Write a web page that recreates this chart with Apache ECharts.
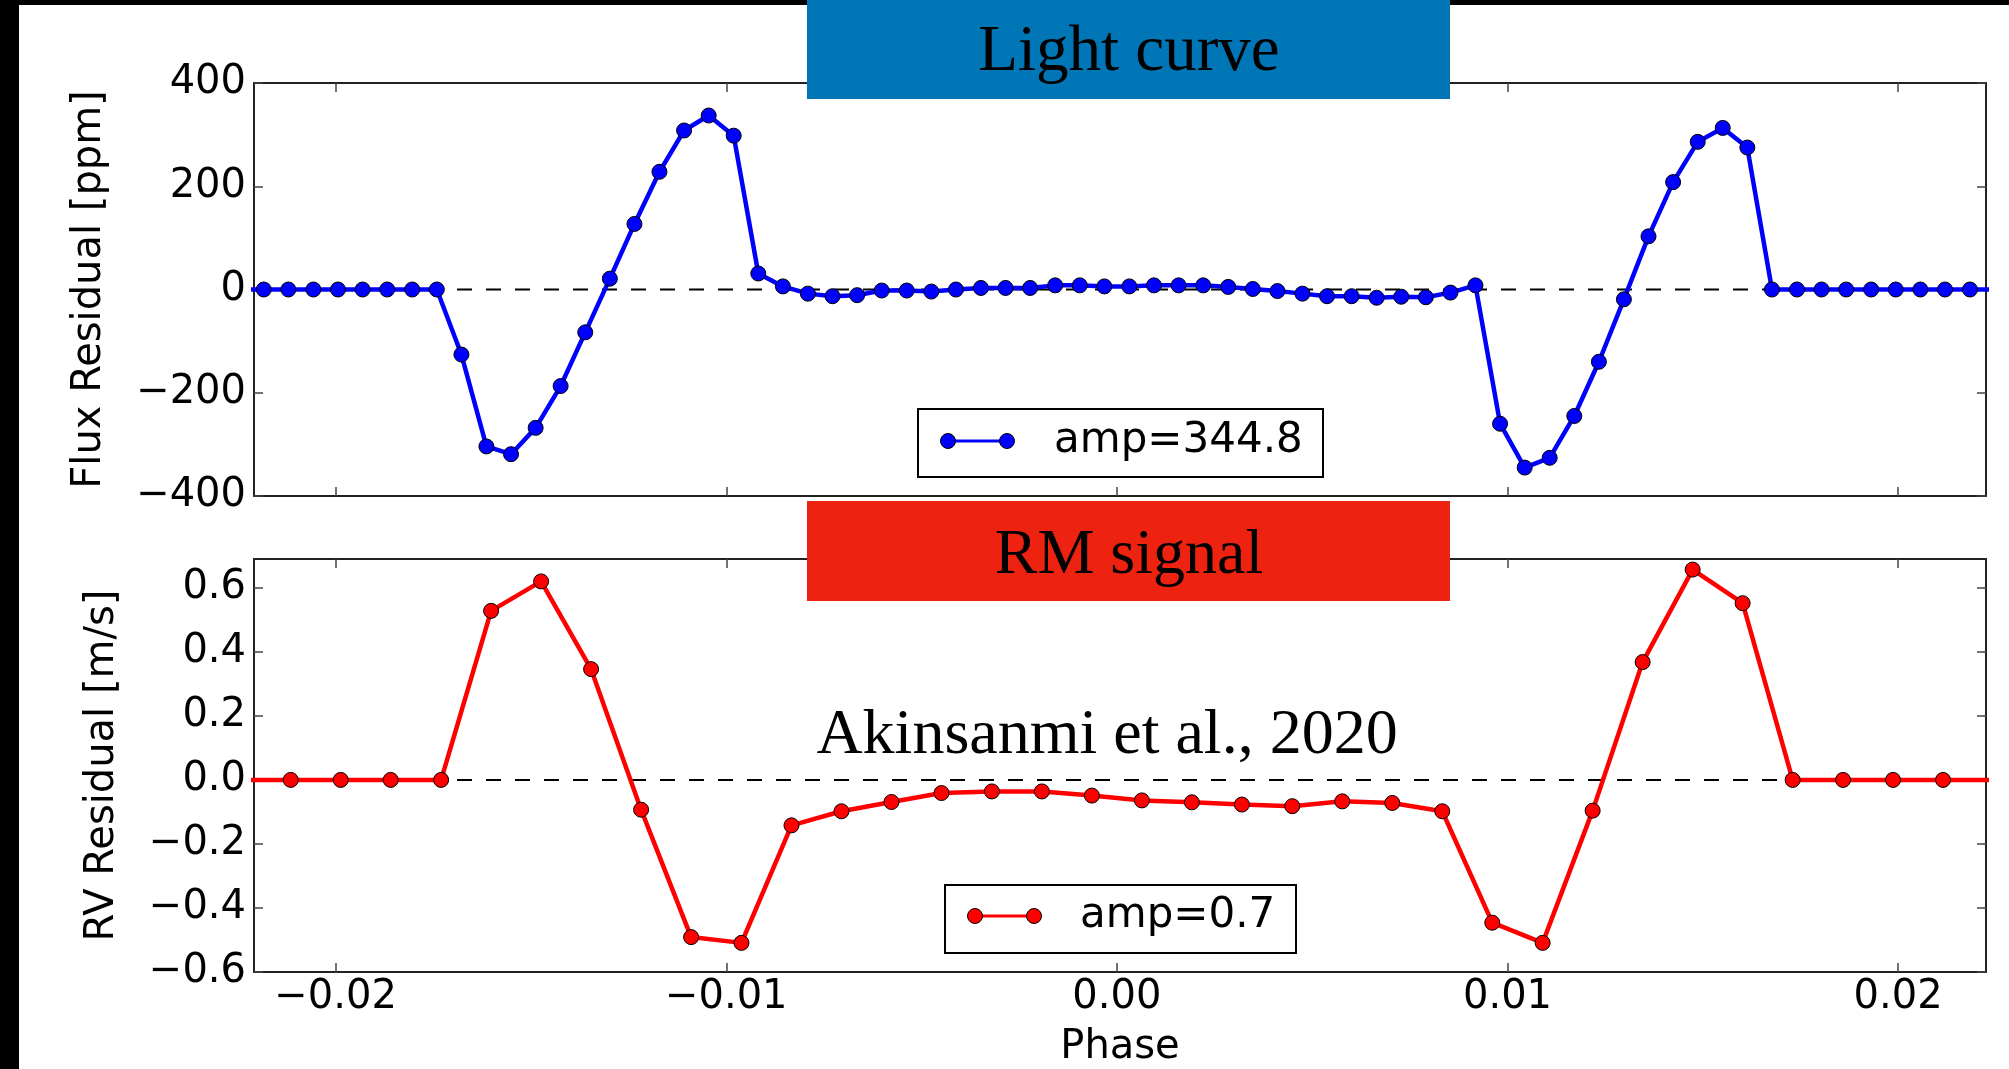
<!DOCTYPE html>
<html>
<head>
<meta charset="utf-8">
<script src="https://cdn.jsdelivr.net/npm/echarts@6/dist/echarts.min.js"></script>
<style>
html,body{margin:0;padding:0;background:#fff;}
#c{width:2009px;height:1069px;}
</style>
</head>
<body>
<div id="c"></div>
<script>
// ---------- data ----------
const fluxPhase = [-0.02247, -0.02184, -0.02121, -0.02057, -0.01994, -0.01931, -0.01868, -0.01804, -0.01741, -0.01678,
  -0.01614, -0.01551, -0.01488, -0.01424, -0.01361, -0.01298, -0.01235, -0.01171, -0.01108, -0.01045,
  -0.00981, -0.00918, -0.00855, -0.00791, -0.00728, -0.00665, -0.00602, -0.00538, -0.00475, -0.00412,
  -0.00348, -0.00285, -0.00222, -0.00158, -0.00095, -0.00032, 0.00032, 0.00095, 0.00158, 0.00221,
  0.00285, 0.00348, 0.00411, 0.00475, 0.00538, 0.00601, 0.00665, 0.00728, 0.00791, 0.00854,
  0.00918, 0.00981, 0.01044, 0.01108, 0.01171, 0.01234, 0.01298, 0.01361, 0.01424, 0.01487,
  0.01551, 0.01614, 0.01677, 0.01741, 0.01804, 0.01867, 0.01931, 0.01994, 0.02057, 0.02120,
  0.02184, 0.02247];
const fluxResidual = [0, 0, 0, 0, 0, 0, 0, 0, 0,
  -126, -304, -319, -268, -187, -83, 21, 127, 228, 308,
  337, 298, 31, 6, -8, -13, -11, -2, -2, -4,
  0, 3, 3, 3, 8, 8, 6, 6, 8, 8,
  8, 5, 1, -3, -8, -13, -13, -16, -14, -15,
  -6, 8, -260, -345, -326, -245, -140, -19, 103, 208,
  286, 313, 275,
  0, 0, 0, 0, 0, 0, 0, 0, 0, 0];

const rvPhase = [-0.02243, -0.02115, -0.01987, -0.01859, -0.01730, -0.01602, -0.01474, -0.01346, -0.01218, -0.01090,
  -0.00961, -0.00833, -0.00705, -0.00577, -0.00449, -0.00320, -0.00192, -0.00064, 0.00064, 0.00192,
  0.00320, 0.00449, 0.00577, 0.00705, 0.00833, 0.00961, 0.01090, 0.01218, 0.01346, 0.01474,
  0.01602, 0.01730, 0.01859, 0.01987, 0.02115, 0.02243];
const rvResidual = [0, 0, 0, 0, 0,
  0.528, 0.620, 0.346, -0.093, -0.491, -0.509, -0.142, -0.098, -0.069, -0.041,
  -0.036, -0.036, -0.049, -0.064, -0.070, -0.077, -0.082, -0.067, -0.072, -0.098,
  -0.446, -0.509, -0.096, 0.368, 0.657, 0.552,
  0, 0, 0, 0, 0];

const phaseTicks = [-0.02, -0.01, 0.00, 0.01, 0.02];
const fluxTicks = [-400, -200, 0, 200, 400];
const rvTicks = [-0.6, -0.4, -0.2, 0.0, 0.2, 0.4, 0.6];

const legendLabels = ['amp=344.8', 'amp=0.7'];
const panelTitles = ['Light curve', 'RM signal'];
const citation = 'Akinsanmi et al., 2020';
const axisNames = { flux: 'Flux Residual [ppm]', rv: 'RV Residual [m/s]', phase: 'Phase' };

// axis extents
const X_MIN = -0.02209, X_MAX = 0.02225;
const FLUX_MIN = -400, FLUX_MAX = 400;
const RV_MIN = -0.6, RV_MAX = 0.69;

// ---------- helpers ----------
const SANS = '"DejaVu Sans", sans-serif';
const SERIF = '"Liberation Serif", "Times New Roman", serif';
function fmt(v, d) {
  const s = Math.abs(v).toFixed(d);
  return (v < -1e-12 ? '\u2212' : '') + s;
}
const frameLine = { show: true, onZero: false, lineStyle: { color: '#222', width: 2 } };
function tick(vals) {
  return { show: true, inside: true, length: 9, customValues: vals, lineStyle: { color: '#444', width: 1.5 } };
}
function label(vals, show, d, margin) {
  return {
    show: show, customValues: vals, margin: margin,
    formatter: v => fmt(v, d),
    fontFamily: SANS, fontSize: 40, color: '#000'
  };
}
function xAx(grid, pos, showLabel, name) {
  const a = {
    type: 'value', gridIndex: grid, position: pos, min: X_MIN, max: X_MAX,
    axisLine: frameLine, axisTick: tick(phaseTicks),
    axisLabel: label(phaseTicks, showLabel, 2, 6),
    splitLine: { show: false }
  };
  if (name) {
    a.name = name; a.nameLocation = 'middle'; a.nameGap = 56;
    a.nameTextStyle = { fontFamily: SANS, fontSize: 40, color: '#000' };
  }
  return a;
}
function yAx(grid, pos, min, max, ticks, d, showLabel, name, gap) {
  const a = {
    type: 'value', gridIndex: grid, position: pos, min: min, max: max,
    axisLine: frameLine, axisTick: tick(ticks),
    axisLabel: label(ticks, showLabel, d, 8),
    splitLine: { show: false }
  };
  if (name) {
    a.name = name; a.nameLocation = 'middle'; a.nameGap = gap; a.nameRotate = 90;
    a.nameTextStyle = { fontFamily: SANS, fontSize: 40, color: '#000' };
  }
  return a;
}
function pairs(xs, ys) { return xs.map((x, i) => [x, ys[i]]); }

function legendGroup(x, y, w, h, lx1, lx2, ly, color, text, tx) {
  return [
    { type: 'rect', z: 50, shape: { x: x, y: y, width: w, height: h },
      style: { fill: '#fff', stroke: '#000', lineWidth: 2 } },
    { type: 'line', z: 51, shape: { x1: lx1, y1: ly, x2: lx2, y2: ly },
      style: { stroke: color, lineWidth: 3 } },
    { type: 'circle', z: 52, shape: { cx: lx1, cy: ly, r: 7.5 },
      style: { fill: color, stroke: '#000', lineWidth: 1 } },
    { type: 'circle', z: 52, shape: { cx: lx2, cy: ly, r: 7.5 },
      style: { fill: color, stroke: '#000', lineWidth: 1 } },
    { type: 'text', z: 52, style: { text: text, x: tx, y: ly, fill: '#000',
      font: '42px ' + SANS, align: 'left', verticalAlign: 'middle' } }
  ];
}

const chart = echarts.init(document.getElementById('c'), null, { renderer: 'canvas' });
const option = {
  animation: false,
  backgroundColor: '#fff',
  grid: [
    { left: 254, top: 83, width: 1732, height: 413 },
    { left: 254, top: 559, width: 1732, height: 414 }
  ],
  xAxis: [
    xAx(0, 'bottom', false),
    xAx(0, 'top', false),
    xAx(1, 'bottom', true, axisNames.phase),
    xAx(1, 'top', false)
  ],
  yAxis: [
    yAx(0, 'left', FLUX_MIN, FLUX_MAX, fluxTicks, 0, true, axisNames.flux, 144),
    yAx(0, 'right', FLUX_MIN, FLUX_MAX, fluxTicks, 0, false),
    yAx(1, 'left', RV_MIN, RV_MAX, rvTicks, 1, true, axisNames.rv, 131),
    yAx(1, 'right', RV_MIN, RV_MAX, rvTicks, 1, false)
  ],
  series: [
    { type: 'line', xAxisIndex: 0, yAxisIndex: 0, z: 1, silent: true, symbol: 'none',
      data: [[X_MIN, 0], [X_MAX, 0]],
      lineStyle: { color: '#000', width: 2, type: [15, 14] } },
    { type: 'line', xAxisIndex: 2, yAxisIndex: 2, z: 1, silent: true, symbol: 'none',
      data: [[X_MIN, 0], [X_MAX, 0]],
      lineStyle: { color: '#000', width: 2, type: [15, 14] } },
    { name: legendLabels[0], type: 'line', xAxisIndex: 0, yAxisIndex: 0, z: 3, silent: true,
      clip: true, data: pairs(fluxPhase, fluxResidual),
      symbol: 'circle', symbolSize: 15, showSymbol: true, showAllSymbol: true,
      lineStyle: { color: '#0000ff', width: 4.5 },
      itemStyle: { color: '#0000ff', borderColor: '#000', borderWidth: 1 } },
    { name: legendLabels[1], type: 'line', xAxisIndex: 2, yAxisIndex: 2, z: 3, silent: true,
      clip: true, data: pairs(rvPhase, rvResidual),
      symbol: 'circle', symbolSize: 15, showSymbol: true, showAllSymbol: true,
      lineStyle: { color: '#ff0000', width: 4.5 },
      itemStyle: { color: '#ff0000', borderColor: '#000', borderWidth: 1 } }
  ],
  graphic: [].concat(
    [
      { type: 'rect', z: 60, shape: { x: 0, y: 0, width: 19, height: 1069 }, style: { fill: '#000' } },
      { type: 'rect', z: 60, shape: { x: 0, y: 0, width: 2009, height: 5 }, style: { fill: '#000' } },
      { type: 'rect', z: 61, shape: { x: 807, y: 0, width: 643, height: 99 }, style: { fill: '#0076b7' } },
      { type: 'text', z: 62, style: { text: panelTitles[0], x: 1129, y: 53, fill: '#000',
        font: '65px ' + SERIF, align: 'center', verticalAlign: 'middle' } },
      { type: 'rect', z: 61, shape: { x: 807, y: 501, width: 643, height: 100 }, style: { fill: '#ed2210' } },
      { type: 'text', z: 62, style: { text: panelTitles[1], x: 1129, y: 556, fill: '#000',
        font: '64px ' + SERIF, align: 'center', verticalAlign: 'middle' } },
      { type: 'text', z: 62, style: { text: citation, x: 1107, y: 736, fill: '#000',
        font: '64px ' + SERIF, align: 'center', verticalAlign: 'middle' } }
    ],
    legendGroup(918, 409, 405, 68, 948, 1007, 441, '#0000ff', legendLabels[0], 1054),
    legendGroup(945, 885, 351, 68, 975, 1034, 916, '#ff0000', legendLabels[1], 1080)
  )
};
chart.setOption(option);
</script>
</body>
</html>
